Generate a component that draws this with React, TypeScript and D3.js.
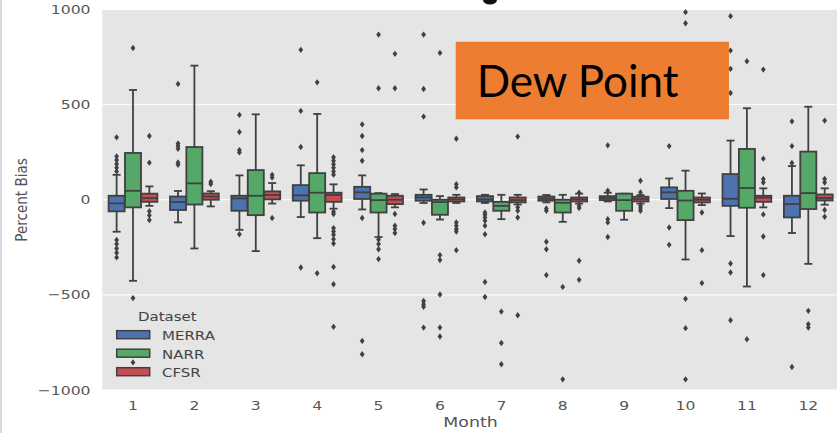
import { useEffect, useRef } from 'react';
import * as d3 from 'd3';

const months = ['1', '2', '3', '4', '5', '6', '7', '8', '9', '10', '11', '12'];
const datasets = ['MERRA', 'NARR', 'CFSR'];
const yTicks = [-1000, -500, 0, 500, 1000];

// per month: [low whisker, q1, median, q3, high whisker]
const merraBoxes = [
  [-168, -61, -19, 21, 131],
  [-119, -54, -12, 17, 46],
  [-158, -58, 7, 21, 128],
  [-91, -5, 23, 77, 181],
  [-51, 4, 39, 68, 128],
  [-17, -5, 12, 26, 54],
  [-17, -9, 2, 19, 26],
  [-14, -5, 5, 17, 25],
  [-9, -2, 9, 19, 37],
  [-44, 4, 39, 65, 112],
  [-191, -32, 5, 135, 311],
  [-175, -93, -23, 21, 177],
];
const narrBoxes = [
  [-426, -40, 47, 246, 577],
  [-256, -25, 86, 277, 705],
  [-270, -81, 21, 156, 449],
  [-202, -67, 37, 140, 451],
  [-196, -67, -2, 32, 35],
  [-104, -79, -12, 0, 19],
  [-102, -58, -32, -11, 26],
  [-116, -67, -16, 0, 26],
  [-105, -58, -2, 32, 32],
  [-314, -107, -4, 47, 153],
  [-456, -42, 62, 267, 481],
  [-337, -49, 35, 253, 489],
];
const cfsrBoxes = [
  [-32, -11, 9, 32, 70],
  [-35, 0, 17, 33, 45],
  [-20, 2, 25, 44, 88],
  [-47, -11, 25, 37, 81],
  [-40, -23, 0, 21, 30],
  [-17, -9, 2, 12, 26],
  [-25, -14, -2, 12, 26],
  [-20, -9, 2, 12, 32],
  [-20, -9, 4, 16, 25],
  [-28, -14, 0, 12, 33],
  [-40, -11, 11, 21, 60],
  [-26, -4, 9, 28, 60],
];

const merraOutliers = [
  [328, 228, 209, 188, 168, 149, -211, -233, -256, -279, -303],
  [609, 296, 282, 268, 196, 184],
  [446, 356, 261, 249, -181],
  [788, 467, 277, -356],
  [396, 335, 261, 205, -96, -742, -812],
  [868, 582, 437, -121, -532, -549, -563, -672],
  [-67, -79, -93, -110, -137, -181, -432, -511],
  [-46, -58, -221, -260, -396],
  [286, 47, -102, -119, -196],
  [282, -146, -237],
  [965, 784, 688, 561, -335, -382, -633],
  [412, 282, 193, -879],
];
const narrOutliers = [
  [798, -517, -855],
  [],
  [],
  [617, -386],
  [868, 586, -209, -233, -260, -312],
  [772, -291, -317, -498, -672, -719],
  [-588, -753, -865],
  [-458, -944],
  [],
  [986, 928, -521, -675, -944],
  [728, -733],
  [-584, -654, -672],
];
const cfsrOutliers = [
  [335, 195, -60, -82, -107],
  [95, 83],
  [131, 117, -96],
  [223, 205, 186, 168, 149, 132, -63, -75, -149, -167, -184, -207, -230, -353, -444, -668],
  [767, 586, -75, -137, -154, -175],
  [321, 82, 65, -119, -137, -154, -167, -265],
  [332, -40, -58, -93, -607],
  [37, -32, -44, -321, -421],
  [100, 39, -32, -44, -58],
  [-67, -265, -438],
  [684, 216, 109, 91, -77, -193, -396],
  [416, 109, 91, -54, -89],
];

const colors = ['#4c72b0', '#55a868', '#c44e52'];
const edge = '#404040';
const font = '"DejaVu Sans", sans-serif';

export default function App() {
  const svgRef = useRef<SVGSVGElement>(null);

  useEffect(() => {
    if (!svgRef.current) return;
    const width = 837;
    const height = 433;
    const plot = { left: 102.3, right: 839, top: 9.5, bottom: 390 };
    const stretch = 1.2; // the screenshot is stretched sideways

    const svg = d3.select(svgRef.current);
    svg.selectAll('*').remove();
    svg.attr('width', width).attr('height', height);

    svg.append('rect').attr('width', width).attr('height', height).attr('fill', '#ffffff');

    const x = d3.scaleBand().domain(months).range([plot.left, plot.right]).padding(0);
    const y = d3.scaleLinear().domain([-1000, 1000]).range([plot.bottom, plot.top]);
    const hue = d3.scaleBand().domain(datasets)
      .range([-0.4 * x.step(), 0.4 * x.step()]);
    const boxW = hue.bandwidth() * 0.98;

    svg.append('rect')
      .attr('x', plot.left).attr('y', plot.top)
      .attr('width', plot.right - plot.left).attr('height', plot.bottom - plot.top)
      .attr('fill', '#e5e5e5');

    // grid
    svg.append('g').selectAll('line')
      .data(yTicks)
      .join('line')
      .attr('x1', plot.left).attr('x2', plot.right)
      .attr('y1', d => y(d)).attr('y2', d => y(d))
      .attr('stroke', '#ffffff').attr('stroke-width', 1);

    // y tick labels
    const fmt = d3.format('d');
    svg.append('g').selectAll('text')
      .data(yTicks)
      .join('text')
      .attr('transform', d => `translate(90.5,${y(d) + 4.6}) scale(${stretch},1)`)
      .attr('text-anchor', 'end')
      .style('font-family', font).style('font-size', '13px').style('fill', '#555555')
      .text(d => fmt(d));

    // x tick labels
    svg.append('g').selectAll('text')
      .data(months)
      .join('text')
      .attr('transform', d => `translate(${x(d)! + x.bandwidth() / 2},409.6) scale(${stretch},1)`)
      .attr('text-anchor', 'middle')
      .style('font-family', font).style('font-size', '13px').style('fill', '#555555')
      .text(d => d);

    svg.append('text')
      .attr('transform', `translate(470.5,427.3) scale(${stretch},1)`)
      .attr('text-anchor', 'middle')
      .style('font-family', font).style('font-size', '14.5px').style('fill', '#555555')
      .text('Month');

    svg.append('text')
      .attr('transform', `translate(27,200) scale(${stretch},1) rotate(-90)`)
      .attr('text-anchor', 'middle')
      .style('font-family', font).style('font-size', '13.5px').style('fill', '#555555')
      .text('Percent Bias');

    // boxes
    const allBoxes = [merraBoxes, narrBoxes, cfsrBoxes];
    const allOutliers = [merraOutliers, narrOutliers, cfsrOutliers];
    const diamond = 'M0,-3.2L2.4,0L0,3.2L-2.4,0Z';

    datasets.forEach((ds, k) => {
      const g = svg.append('g').attr('class', `series-${ds}`);
      const rows = allBoxes[k].map((s, i) => ({
        cx: x(months[i])! + x.bandwidth() / 2 + hue(ds)! + hue.bandwidth() / 2,
        s,
        out: allOutliers[k][i],
      }));

      // whiskers
      g.selectAll('line.wl')
        .data(rows).join('line').attr('class', 'wl')
        .attr('x1', d => d.cx).attr('x2', d => d.cx)
        .attr('y1', d => y(d.s[0])).attr('y2', d => y(d.s[1]))
        .attr('stroke', edge).attr('stroke-width', 1.8);
      g.selectAll('line.wh')
        .data(rows).join('line').attr('class', 'wh')
        .attr('x1', d => d.cx).attr('x2', d => d.cx)
        .attr('y1', d => y(d.s[3])).attr('y2', d => y(d.s[4]))
        .attr('stroke', edge).attr('stroke-width', 1.8);
      // caps
      [0, 4].forEach(j => {
        g.selectAll(`line.cap${j}`)
          .data(rows).join('line').attr('class', `cap${j}`)
          .attr('x1', d => d.cx - boxW / 4).attr('x2', d => d.cx + boxW / 4)
          .attr('y1', d => y(d.s[j])).attr('y2', d => y(d.s[j]))
          .attr('stroke', edge).attr('stroke-width', 1.8);
      });
      // box
      g.selectAll('rect.box')
        .data(rows).join('rect').attr('class', 'box')
        .attr('x', d => d.cx - boxW / 2).attr('width', boxW)
        .attr('y', d => y(d.s[3])).attr('height', d => Math.max(0.5, y(d.s[1]) - y(d.s[3])))
        .attr('fill', colors[k]).attr('stroke', edge).attr('stroke-width', 1.8);
      // median
      g.selectAll('line.med')
        .data(rows).join('line').attr('class', 'med')
        .attr('x1', d => d.cx - boxW / 2).attr('x2', d => d.cx + boxW / 2)
        .attr('y1', d => y(d.s[2])).attr('y2', d => y(d.s[2]))
        .attr('stroke', edge).attr('stroke-width', 1.8);
      // fliers
      const fl = rows.flatMap(d => d.out.map(v => ({ cx: d.cx, v })));
      g.selectAll('path.flier')
        .data(fl).join('path').attr('class', 'flier')
        .attr('d', diamond)
        .attr('transform', d => `translate(${d.cx},${y(d.v)})`)
        .attr('fill', edge);
    });

    // legend
    const lg = svg.append('g');
    lg.append('text')
      .attr('transform', `translate(138,320.7) scale(${stretch},1)`)
      .style('font-family', font).style('font-size', '12.5px').style('fill', '#444444')
      .text('Dataset');
    const legendY = d3.scalePoint().domain(datasets).range([330.7, 367.7]);
    lg.selectAll('rect')
      .data(datasets).join('rect')
      .attr('x', 116.7).attr('y', d => legendY(d)!)
      .attr('width', 33).attr('height', 8)
      .attr('fill', (d, i) => colors[i]).attr('stroke', edge).attr('stroke-width', 1.5);
    lg.selectAll('text.lab')
      .data(datasets).join('text').attr('class', 'lab')
      .attr('transform', d => `translate(162,${legendY(d)! + 9.3}) scale(${stretch},1)`)
      .style('font-family', font).style('font-size', '12.5px').style('fill', '#444444')
      .text(d => d);

    // slide overlay
    svg.append('rect')
      .attr('x', 455.7).attr('y', 41.7).attr('width', 273.3).attr('height', 77.6)
      .attr('fill', '#ed7d31');
    svg.append('text')
      .attr('x', 476.7).attr('y', 96.7)
      .style('font-family', 'Lato, "Open Sans", sans-serif').style('font-size', '44px')
      .style('fill', '#000000')
      .text('Dew Point');

    // bits of the slide around the chart
    svg.append('ellipse').attr('cx', 490).attr('cy', 0).attr('rx', 7).attr('ry', 4.5).attr('fill', '#111111');
    svg.append('line').attr('x1', 1).attr('x2', 1).attr('y1', 0).attr('y2', height)
      .attr('stroke', '#d8d8e4').attr('stroke-width', 2);
  }, []);

  return (
    <svg ref={svgRef} style={{ position: 'fixed', left: 0, top: 0, display: 'block' }}></svg>
  );
}
